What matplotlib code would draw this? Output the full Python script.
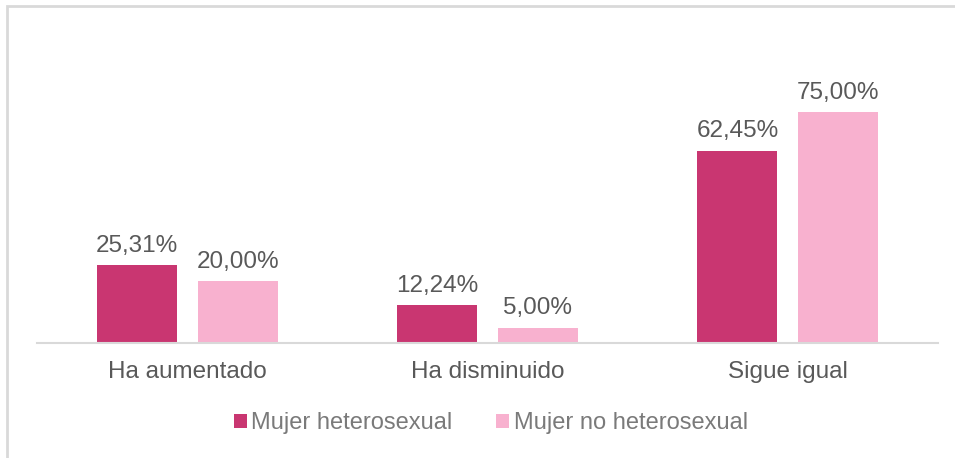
import matplotlib.pyplot as plt
import numpy as np
from matplotlib.patches import Rectangle

categories = ['Ha aumentado', 'Ha disminuido', 'Sigue igual']
series = ['Mujer heterosexual', 'Mujer no heterosexual']
hetero = [25.31, 12.24, 62.45]
no_hetero = [20.00, 5.00, 75.00]
colors = ['#C93671', '#F8B1CF']

plt.rcParams['font.family'] = ['Liberation Sans', 'DejaVu Sans']

fig = plt.figure(figsize=(9.55, 4.58), dpi=100)
W, H = 955, 458

# outer chart frame (clipped on right and bottom like the source)
fig.patches.append(Rectangle((7 / W, -0.1), 1.1, (H - 6) / H + 0.1,
                             transform=fig.transFigure, fill=False,
                             edgecolor='#D9D9D9', linewidth=2))

ax = fig.add_axes([37 / W, (H - 343) / H, (938 - 37) / W, (343 - 35) / H])

x = np.arange(len(categories))
width = 0.267
offset = 0.168
b1 = ax.bar(x - offset, hetero, width, color=colors[0], label=series[0])
b2 = ax.bar(x + offset, no_hetero, width, color=colors[1], label=series[1])

for bars, vals in ((b1, hetero), (b2, no_hetero)):
    for rect, v in zip(bars, vals):
        ax.annotate(f'{v:.2f}%'.replace('.', ','),
                    (rect.get_x() + rect.get_width() / 2, rect.get_height()),
                    xytext=(0, 6), textcoords='offset points',
                    ha='center', va='bottom', fontsize=17.5, color='#595959')

ax.set_xlim(-0.5, 2.5)
ax.set_ylim(0, 100)
ax.set_yticks([])
ax.set_xticks(x)
ax.set_xticklabels(categories, fontsize=17.5, color='#595959')
ax.tick_params(axis='x', length=0, pad=13)
for s in ['top', 'right', 'left']:
    ax.spines[s].set_visible(False)
ax.spines['bottom'].set_color('#D9D9D9')
ax.spines['bottom'].set_linewidth(1.5)

fig.legend(loc='center', bbox_to_anchor=(491 / W, (H - 423) / H), ncol=2,
           frameon=False, fontsize=17, labelcolor='#7A7A7A',
           handlelength=0.55, handleheight=0.55, handletextpad=0.2,
           columnspacing=1.85)

fig.savefig('out.png', dpi=100)
